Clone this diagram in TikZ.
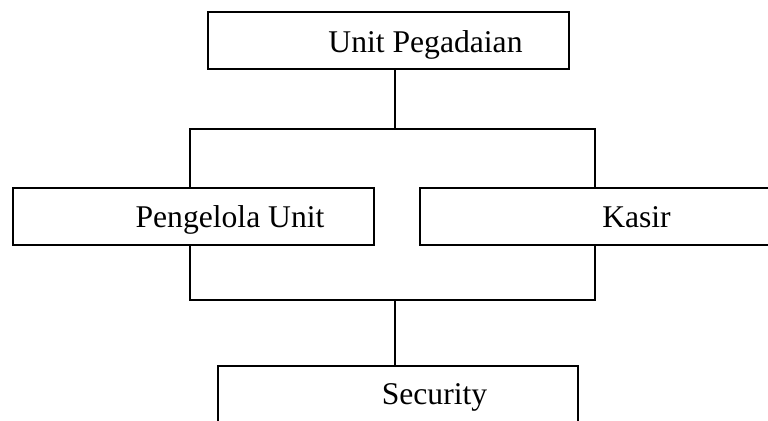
\documentclass[tikz,border=0pt]{standalone}
\usepackage{fontspec}
\setmainfont{Liberation Serif}
\usetikzlibrary{positioning}

\tikzset{
  box/.style={draw, line width=1.1pt, inner sep=0pt, minimum height=1.14cm},
  lbl/.style={anchor=base, inner sep=0pt, font=\fontsize{18}{20}\selectfont},
  conn/.style={line width=1.1pt}
}

\begin{document}
\begin{tikzpicture}[x=0.02cm, y=-0.02cm]

  \useasboundingbox (0,0) rectangle (768,421);
  \clip (0,0) rectangle (768,421);

%boxes
  \node[box, minimum width=7.22cm] (unit) at (388.5,40.5) {};
  \node[box, minimum width=7.22cm] (pengelola) at (193.5,216.5) {};
  \node[box, minimum width=7.4cm] (kasir) at (605,216.5) {};
  \node[box, minimum width=7.2cm, minimum height=1.3cm] (security) at (398,398.5) {};

%labels
  \node[lbl] (tunit) at (425.5,53) {Unit Pegadaian};
  \node[lbl] (tpengelola) at (230,228) {Pengelola Unit};
  \node[lbl] (tkasir) at (636.5,228) {Kasir};
  \node[lbl] (tsecurity) at (434.5,405) {Security};

%lines
  \coordinate (topM) at (395,129);
  \coordinate (topL) at (190,129);
  \coordinate (topR) at (595,129);
  \coordinate (lowM) at (395,300);
  \coordinate (lowL) at (190,300);
  \coordinate (lowR) at (595,300);

  \draw[conn] (unit.south -| topM) -- (topM);
  \draw[conn] (pengelola.north -| topL) -- (topL) -- (topR) -- (kasir.north -| topR);
  \draw[conn] (pengelola.south -| lowL) -- (lowL) -- (lowR) -- (kasir.south -| lowR);
  \draw[conn] (lowM) -- (security.north -| lowM);

\end{tikzpicture}
\end{document}
